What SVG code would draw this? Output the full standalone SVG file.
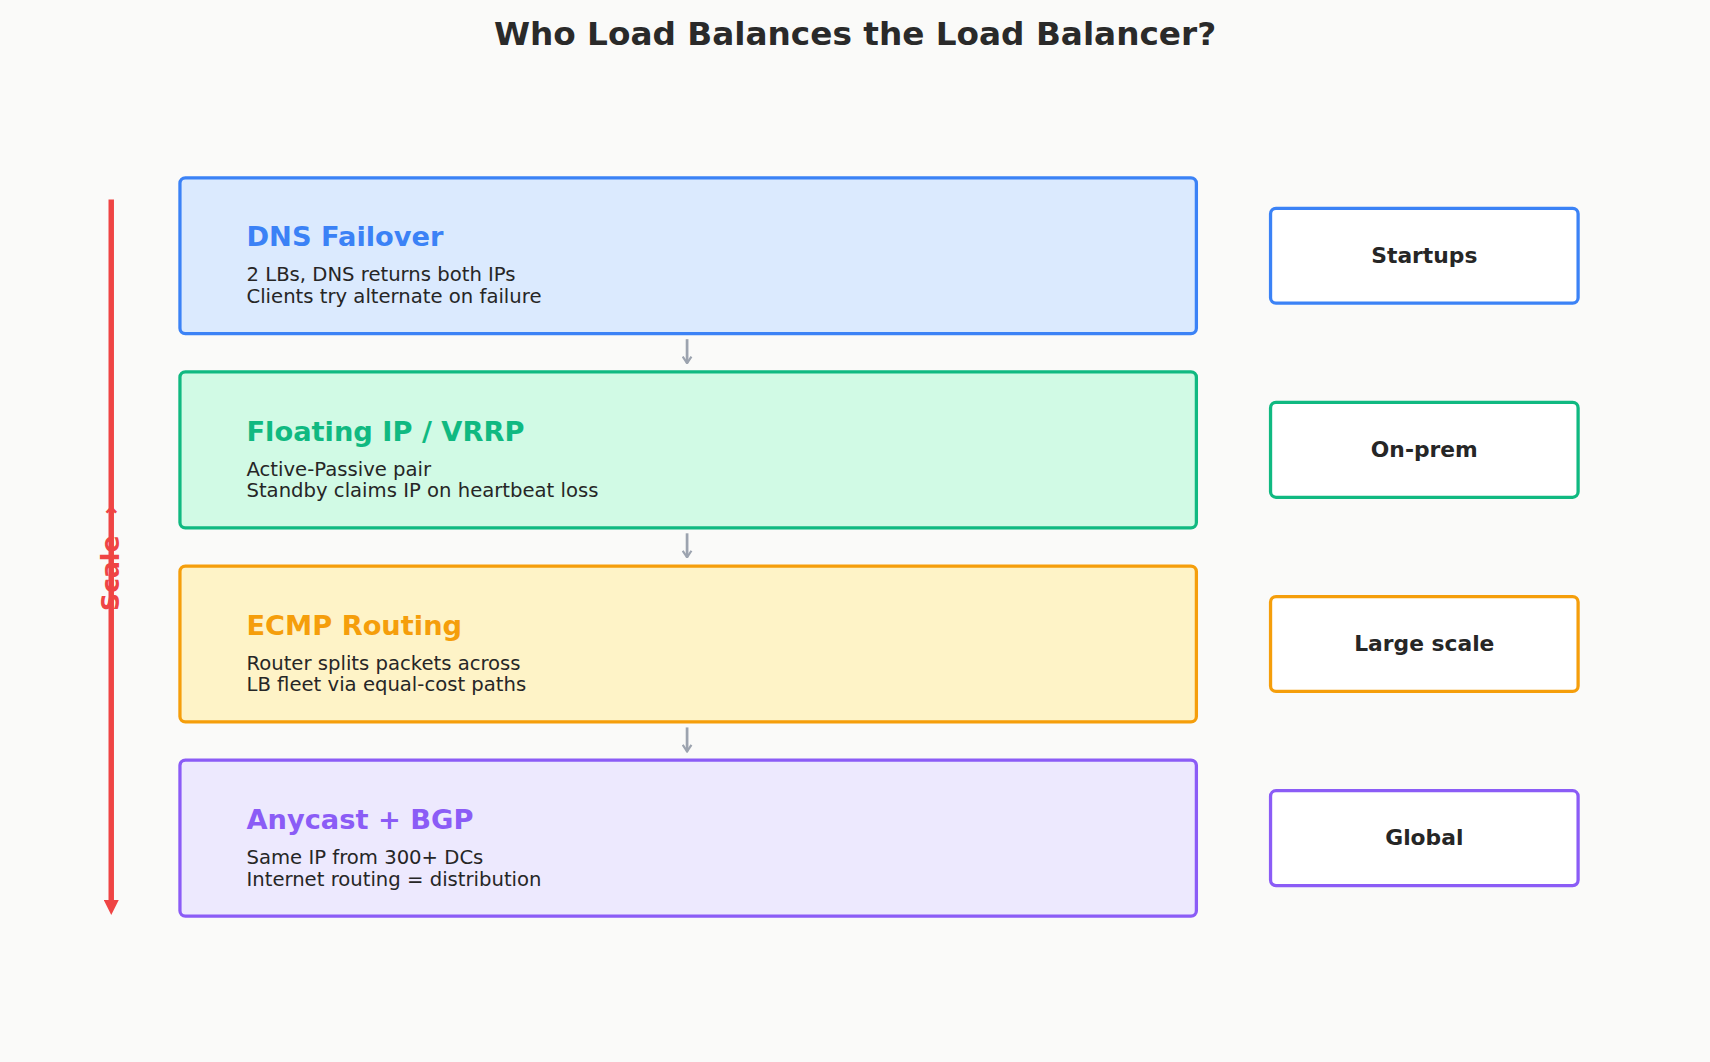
<svg xmlns="http://www.w3.org/2000/svg" width="1710" height="1062" viewBox="0 0 1710 1062">
<style>
text{font-family:"DejaVu Sans",sans-serif}
.t{font-size:25px;font-weight:bold}
.s{font-size:18px;fill:#262626}
.r{font-size:20px;font-weight:bold;fill:#262626;text-anchor:middle}
.side{fill:#fff;stroke-width:3}
.main{stroke-width:3}
</style>
<defs>
<marker id="g" viewBox="0 0 10 10" refX="9" refY="5" markerWidth="10" markerHeight="10" orient="auto" markerUnits="userSpaceOnUse"><path d="M3,1 L9,5 L3,9" fill="none" stroke="#9ca3af" stroke-width="2"/></marker>
<marker id="rd" viewBox="0 0 10 10" refX="5" refY="5" markerWidth="14" markerHeight="14" orient="auto" markerUnits="userSpaceOnUse"><path d="M0,0 L10,5 L0,10 Z" fill="#ef4444"/></marker>
</defs>
<rect width="1710" height="1062" fill="#fafaf9"/>
<g transform="scale(1.0906)">
<text x="784" y="41" font-size="30" font-weight="bold" fill="#2a2a2a" text-anchor="middle">Who Load Balances the Load Balancer?</text>
<g id="scale">
<line x1="102" y1="183" x2="102" y2="832" stroke="#ef4444" stroke-width="5" marker-end="url(#rd)"/>
<text transform="translate(109,512) rotate(-90)" font-size="23" font-weight="bold" fill="#ef4444" text-anchor="middle">Scale →</text>
</g>
<g id="connectors" stroke="#9ca3af" stroke-width="2.5">
<line x1="630" y1="311" x2="630" y2="333" marker-end="url(#g)"/>
<line x1="630" y1="489" x2="630" y2="511" marker-end="url(#g)"/>
<line x1="630" y1="667" x2="630" y2="689" marker-end="url(#g)"/>
</g>
<g id="dns">
<rect class="main" x="165" y="163" width="932" height="143" rx="5" fill="#dbeafe" stroke="#3b82f6"/>
<text class="t" x="226" y="226" fill="#3b82f6">DNS Failover</text>
<text class="s" x="226" y="258">2 LBs, DNS returns both IPs</text>
<text class="s" x="226" y="278">Clients try alternate on failure</text>
</g>
<g id="vrrp">
<rect class="main" x="165" y="341" width="932" height="143" rx="5" fill="#d1fae5" stroke="#10b981"/>
<text class="t" x="226" y="404" fill="#10b981">Floating IP / VRRP</text>
<text class="s" x="226" y="436">Active-Passive pair</text>
<text class="s" x="226" y="456">Standby claims IP on heartbeat loss</text>
</g>
<g id="ecmp">
<rect class="main" x="165" y="519" width="932" height="143" rx="5" fill="#fef3c7" stroke="#f59e0b"/>
<text class="t" x="226" y="582" fill="#f59e0b">ECMP Routing</text>
<text class="s" x="226" y="614">Router splits packets across</text>
<text class="s" x="226" y="634">LB fleet via equal-cost paths</text>
</g>
<g id="anycast">
<rect class="main" x="165" y="697" width="932" height="143" rx="5" fill="#ede9fe" stroke="#8b5cf6"/>
<text class="t" x="226" y="760" fill="#8b5cf6">Anycast + BGP</text>
<text class="s" x="226" y="792">Same IP from 300+ DCs</text>
<text class="s" x="226" y="812">Internet routing = distribution</text>
</g>
<g id="startups"><rect class="side" x="1165" y="191" width="282" height="87" rx="5" stroke="#3b82f6"/><text class="r" x="1306" y="241">Startups</text></g>
<g id="onprem"><rect class="side" x="1165" y="369" width="282" height="87" rx="5" stroke="#10b981"/><text class="r" x="1306" y="419">On-prem</text></g>
<g id="large"><rect class="side" x="1165" y="547" width="282" height="87" rx="5" stroke="#f59e0b"/><text class="r" x="1306" y="597">Large scale</text></g>
<g id="global"><rect class="side" x="1165" y="725" width="282" height="87" rx="5" stroke="#8b5cf6"/><text class="r" x="1306" y="775">Global</text></g>
</g>
</svg>
